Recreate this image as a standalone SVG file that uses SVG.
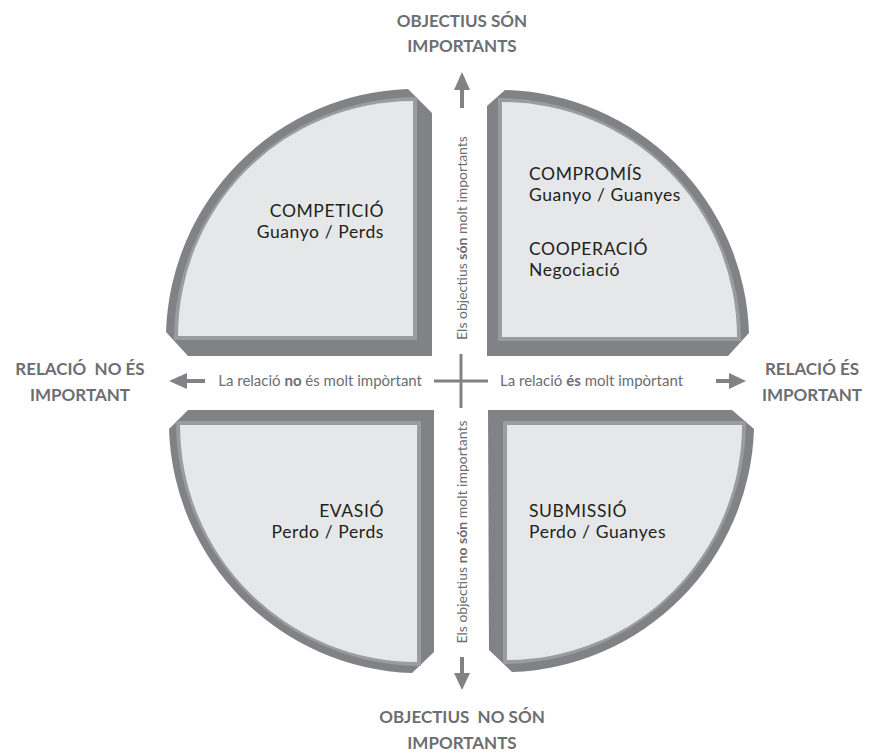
<svg xmlns="http://www.w3.org/2000/svg" width="877" height="753" viewBox="0 0 877 753">
<style>
.rim{fill:#808285}
.band{fill:#9b9c9f}
.face{fill:#e6e7e8}
.lbl{font-family:Lato,"Open Sans",sans-serif;font-size:17.5px;letter-spacing:0.6px;fill:#231f20}
.ax{font-family:Lato,"Open Sans",sans-serif;font-size:14px;fill:#6d6e71}
.axh{font-size:15px}
.ttl{font-family:Lato,"Open Sans",sans-serif;font-size:17px;font-weight:bold;fill:#6d6e71;text-anchor:middle;white-space:pre}
.ln{stroke:#808285;fill:none}
.hd{fill:#808285}
.b{font-weight:bold}
</style>
<rect width="877" height="753" fill="#ffffff"/>
<g id="competicio">
<path class="rim" d="M166,332 A251,251 0 0 1 408,89 L432,113 L432,356 L188,356 Z"/>
<path class="band" d="M417,340 L174,340 A243,243 0 0 1 417,97 Z"/>
<path class="face" d="M413,336 L178,336 A235,235 0 0 1 413,101 Z"/>
<text class="lbl" x="384" y="217" text-anchor="end">COMPETICIÓ</text>
<text class="lbl" x="384" y="238" text-anchor="end">Guanyo / Perds</text>
</g>
<g id="compromis">
<path class="rim" d="M749,333 A251,251 0 0 0 505,90 L487,106 L487,356 L728,356 Z"/>
<path class="band" d="M498,341 L741,341 A243,243 0 0 0 498,98 Z"/>
<path class="face" d="M502,337 L737,337 A235,235 0 0 0 502,102 Z"/>
<text class="lbl" x="529" y="180">COMPROMÍS</text>
<text class="lbl" x="529" y="201">Guanyo / Guanyes</text>
<text class="lbl" x="529" y="255">COOPERACIÓ</text>
<text class="lbl" x="529" y="276">Negociació</text>
</g>
<g id="evasio">
<path class="rim" d="M169,429 A252,252 0 0 0 412,673 L434,652 L434,410 L188,410 Z"/>
<path class="band" d="M421,421 L176,421 A245,245 0 0 0 421,666 Z"/>
<path class="face" d="M417,425 L180,425 A237,237 0 0 0 417,662 Z"/>
<text class="lbl" x="384" y="517" text-anchor="end">EVASIÓ</text>
<text class="lbl" x="384" y="538" text-anchor="end">Perdo / Perds</text>
</g>
<g id="submissio">
<path class="rim" d="M488,410 L732,410 L754,429 A251,251 0 0 1 512,672 L489,650 Z"/>
<path class="band" d="M503,421 L746,421 A243,243 0 0 1 503,664 Z"/>
<path class="face" d="M507,425 L742,425 A235,235 0 0 1 507,660 Z"/>
<text class="lbl" x="529" y="517">SUBMISSIÓ</text>
<text class="lbl" x="529" y="538">Perdo / Guanyes</text>
</g>
<g id="connectors">
<line class="ln" stroke-width="4" x1="462" y1="108" x2="462" y2="88"/>
<polygon class="hd" points="462,72 454,90 470,90"/>
<line class="ln" stroke-width="4" x1="462" y1="657" x2="462" y2="675"/>
<polygon class="hd" points="462,690 454,673 470,673"/>
<line class="ln" stroke-width="4" x1="205" y1="381" x2="186" y2="381"/>
<polygon class="hd" points="169,381 187,373 187,389"/>
<line class="ln" stroke-width="4" x1="716" y1="381" x2="731" y2="381"/>
<polygon class="hd" points="746,381 729,373 729,389"/>
<line class="ln" stroke-width="3" x1="434" y1="381" x2="488" y2="381"/>
<line class="ln" stroke-width="3" x1="461" y1="354" x2="461" y2="408"/>
</g>
<g id="axis-labels">
<text class="ax axh" x="422" y="386" text-anchor="end">La relació <tspan class="b">no</tspan> és molt impòrtant</text>
<text class="ax axh" x="500" y="386">La relació <tspan class="b">és</tspan> molt impòrtant</text>
<text class="ax" transform="translate(467,238) rotate(-90)" text-anchor="middle">Els objectius <tspan class="b">són</tspan> molt importants</text>
<text class="ax" transform="translate(467,532) rotate(-90)" text-anchor="middle">Els objectius <tspan class="b">no són</tspan> molt importants</text>
</g>
<g id="titles">
<text class="ttl" x="462" y="27">OBJECTIUS SÓN</text>
<text class="ttl" x="462" y="52">IMPORTANTS</text>
<text class="ttl" x="462" y="723">OBJECTIUS  NO SÓN</text>
<text class="ttl" x="462" y="749">IMPORTANTS</text>
<text class="ttl" x="80" y="375">RELACIÓ  NO ÉS</text>
<text class="ttl" x="80" y="401">IMPORTANT</text>
<text class="ttl" x="812" y="375">RELACIÓ ÉS</text>
<text class="ttl" x="812" y="401">IMPORTANT</text>
</g>
</svg>
